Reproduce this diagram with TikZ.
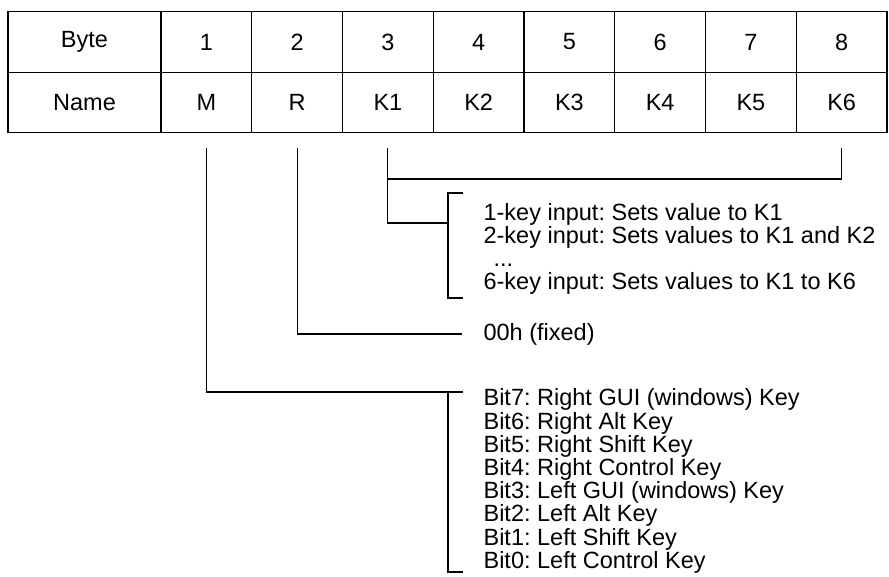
\documentclass[tikz,border=0pt]{standalone}
\usepackage{fontspec}
\setmainfont{Liberation Sans}
\usetikzlibrary{positioning}

\begin{document}
\frenchspacing
\begin{tikzpicture}[x=1pt,y=-1pt,line width=1.2pt,
        cell/.style={draw,minimum height=60.5pt,inner sep=0pt,font=\fontsize{23.5}{23.2}\selectfont},
        note/.style={anchor=west,align=left,inner sep=0pt,font=\fontsize{23.5}{23.2}\selectfont}]
        \useasboundingbox (0,0) rectangle (889,576);

        % Table
        \node[cell,minimum width=153pt] (byte) at (84.5,42) {Byte};
        \node[cell,minimum width=153pt] (name) at (84.5,102.5) {Name};
        \foreach \i/\n in {1/M, 2/R, 3/K1, 4/K2, 5/K3, 6/K4, 7/K5, 8/K6} {
            \node[cell,minimum width=90.75pt] (b\i) at ({161+90.75*(\i-0.5)}, 42) {\i};
            \node[cell,minimum width=90.75pt] (n\i) at ({161+90.75*(\i-0.5)}, 102.5) {\n};
            \coordinate (t\i) at ([yshift=-15pt]n\i.south);
        }

        % Descriptions
        \node[note] (keys) at (483,249) {1-key input: Sets value to K1\\2-key input: Sets values to K1 and K2\\\hspace{10pt}...\\6-key input: Sets values to K1 to K6};
        \node[note] (fixed) at (483,334) {00h (fixed)};
        \node[note] (bits) at (483,481) {Bit7: Right GUI (windows) Key\\Bit6: Right Alt Key\\Bit5: Right Shift Key\\Bit4: Right Control Key\\Bit3: Left GUI (windows) Key\\Bit2: Left Alt Key\\Bit1: Left Shift Key\\Bit0: Left Control Key};

        % Brackets
        \coordinate (ktop) at (463,193);
        \coordinate (kbot) at (463,298);
        \coordinate (kjoin) at (448,223);
        \draw (ktop) -- ++(-15,0) |- (kbot);
        \coordinate (mtop) at (463,392);
        \coordinate (mbot) at (463,572);
        \coordinate (mjoin) at (448,392);
        \draw (mtop) -- ++(-15,0) |- (mbot);

        % Connectors
        \draw (t1) |- (mjoin);
        \draw (t2) |- (fixed.west -| 462,0);
        \draw (t3) |- (kjoin);
        \draw (t8) |- (t3 |- 0,179);
    \end{tikzpicture}
\end{document}
